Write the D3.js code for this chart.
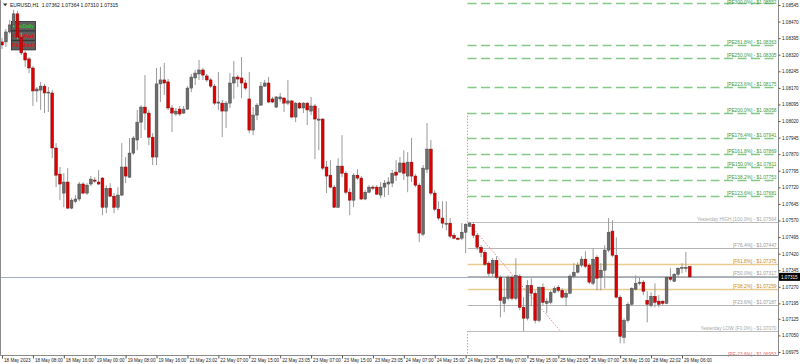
<!DOCTYPE html>
<html>
<head>
<meta charset="utf-8">
<script src="https://cdn.jsdelivr.net/npm/d3@7"></script>
<style>
body { margin: 0; background: #fff; }
svg { display: block; font-family: "Liberation Sans", Arial, sans-serif; }
</style>
</head>
<body>
<script>
// EURUSD H1, bars from 18 May 00:00 up to 29 May 08:00
let open = [1.08378,1.08378,1.08423,1.08455,1.08505,1.08400,1.08328,1.08301,1.08260,1.08156,1.08160,1.08178,1.08147,1.08147,1.07898,1.07780,1.07694,1.07744,1.07626,1.07657,
1.07667,1.07735,1.07694,1.07735,1.07753,1.07744,1.07762,1.07630,1.07716,1.07680,1.07630,1.07685,1.07812,1.07766,1.07875,1.07934,1.08015,1.08083,1.08056,1.07947,
1.07857,1.08188,1.08206,1.08197,1.08079,1.08052,1.08074,1.08056,1.08074,1.08169,1.08215,1.08233,1.08251,1.08224,1.08206,1.08178,1.08101,1.08101,1.08065,1.08101,
1.08192,1.08219,1.08215,1.08192,1.08120,1.07979,1.08047,1.08092,1.08178,1.08192,1.08120,1.08083,1.08120,1.08124,1.08101,1.08111,1.08038,1.08101,1.08079,1.08101,
1.08065,1.08088,1.08024,1.08029,1.07812,1.07775,1.07721,1.07630,1.07816,1.07784,1.07698,1.07662,1.07775,1.07762,1.07667,1.07698,1.07721,1.07721,1.07685,1.07721,
1.07735,1.07739,1.07789,1.07789,1.07830,1.07771,1.07834,1.07771,1.07730,1.07508,1.07802,1.07893,1.07694,1.07621,1.07581,1.07553,1.07558,1.07503,1.07490,1.07490,
1.07517,1.07544,1.07553,1.07503,1.07449,1.07426,1.07377,1.07331,1.07390,1.07313,1.07195,1.07218,1.07313,1.07218,1.07318,1.07177,1.07128,1.07277,1.07241,1.07118,
1.07268,1.07195,1.07200,1.07245,1.07268,1.07254,1.07223,1.07241,1.07318,1.07336,1.07368,1.07395,1.07368,1.07286,1.07404,1.07313,1.07345,1.07436,1.07522,1.07413,
1.07223,1.07041,1.07118,1.07191,1.07259,1.07286,1.07291,1.07209,1.07186,1.07227,1.07205,1.07205,1.07195,1.07313,1.07295,1.07327,1.07354,1.07354,1.07362]
let high = [1.08396,1.08437,1.08477,1.08523,1.08518,1.08419,1.08337,1.08310,1.08269,1.08174,1.08197,1.08188,1.08174,1.08160,1.07920,1.07812,1.07784,1.07807,1.07671,1.07685,
1.07744,1.07744,1.07739,1.07771,1.07766,1.07798,1.07766,1.07730,1.07739,1.07694,1.07721,1.07920,1.07857,1.07943,1.07952,1.08070,1.08092,1.08228,1.08070,1.07965,
1.08260,1.08265,1.08283,1.08210,1.08092,1.08079,1.08088,1.08088,1.08178,1.08233,1.08251,1.08296,1.08260,1.08233,1.08215,1.08188,1.08242,1.08115,1.08111,1.08237,
1.08292,1.08228,1.08310,1.08206,1.08242,1.08083,1.08101,1.08197,1.08206,1.08219,1.08129,1.08133,1.08147,1.08129,1.08206,1.08115,1.08106,1.08106,1.08106,1.08106,
1.08129,1.08097,1.08079,1.08033,1.07839,1.07843,1.07730,1.07852,1.07956,1.07793,1.07716,1.07784,1.07802,1.07771,1.07707,1.07730,1.07730,1.07730,1.07744,1.07753,
1.07766,1.07798,1.07843,1.07857,1.07888,1.07879,1.07943,1.07780,1.07739,1.07821,1.08011,1.07934,1.07707,1.07657,1.07657,1.07657,1.07581,1.07513,1.07494,1.07558,
1.07558,1.07564,1.07562,1.07513,1.07458,1.07436,1.07386,1.07399,1.07408,1.07322,1.07309,1.07322,1.07322,1.07399,1.07327,1.07223,1.07300,1.07309,1.07254,1.07272,
1.07286,1.07218,1.07254,1.07272,1.07277,1.07263,1.07254,1.07327,1.07377,1.07381,1.07408,1.07431,1.07377,1.07445,1.07413,1.07377,1.07458,1.07581,1.07571,1.07494,
1.07232,1.07128,1.07200,1.07268,1.07322,1.07313,1.07300,1.07250,1.07245,1.07286,1.07232,1.07209,1.07318,1.07354,1.07331,1.07358,1.07377,1.07428,1.07364]
let low = [1.08346,1.08355,1.08414,1.08446,1.08391,1.08319,1.08265,1.08237,1.08088,1.08106,1.08070,1.08056,1.08061,1.07852,1.07721,1.07662,1.07630,1.07621,1.07621,1.07648,
1.07657,1.07689,1.07685,1.07725,1.07739,1.07730,1.07594,1.07603,1.07676,1.07603,1.07617,1.07680,1.07739,1.07762,1.07866,1.07888,1.07943,1.07979,1.07911,1.07821,
1.07821,1.08106,1.08138,1.08070,1.07970,1.08043,1.08043,1.08052,1.08070,1.08151,1.08183,1.08206,1.08206,1.08197,1.08169,1.08092,1.08070,1.07947,1.07988,1.08079,
1.08120,1.08174,1.08124,1.08160,1.07965,1.07956,1.08024,1.08088,1.08174,1.08101,1.08101,1.08079,1.08106,1.08061,1.08092,1.08033,1.08015,1.08074,1.08056,1.08002,
1.08047,1.07848,1.07888,1.07798,1.07694,1.07716,1.07626,1.07626,1.07766,1.07689,1.07594,1.07630,1.07753,1.07662,1.07662,1.07694,1.07707,1.07685,1.07671,1.07676,
1.07685,1.07721,1.07748,1.07784,1.07753,1.07698,1.07744,1.07721,1.07472,1.07499,1.07784,1.07685,1.07612,1.07571,1.07535,1.07526,1.07490,1.07485,1.07481,1.07481,
1.07422,1.07540,1.07490,1.07436,1.07404,1.07363,1.07318,1.07313,1.07304,1.07132,1.07155,1.07209,1.07209,1.07209,1.07164,1.07070,1.07118,1.07182,1.07105,1.07109,
1.07186,1.07150,1.07191,1.07241,1.07245,1.07218,1.07182,1.07236,1.07309,1.07331,1.07358,1.07354,1.07282,1.07277,1.07254,1.07254,1.07263,1.07426,1.07404,1.07218,
1.07014,1.07014,1.07109,1.07182,1.07254,1.07277,1.07232,1.07109,1.07177,1.07177,1.07177,1.07186,1.07191,1.07295,1.07291,1.07313,1.07331,1.07336,1.07310]
let close = [1.08364,1.08423,1.08455,1.08505,1.08400,1.08328,1.08296,1.08260,1.08156,1.08165,1.08178,1.08147,1.08151,1.07898,1.07775,1.07735,1.07744,1.07626,1.07662,1.07667,
1.07735,1.07694,1.07730,1.07757,1.07748,1.07735,1.07630,1.07716,1.07680,1.07630,1.07685,1.07812,1.07771,1.07875,1.07943,1.08015,1.08083,1.08056,1.07947,1.07857,
1.08188,1.08206,1.08192,1.08079,1.08056,1.08065,1.08052,1.08074,1.08169,1.08219,1.08237,1.08251,1.08228,1.08206,1.08178,1.08101,1.08106,1.08065,1.08101,1.08192,
1.08219,1.08210,1.08192,1.08169,1.07979,1.08047,1.08092,1.08178,1.08192,1.08106,1.08106,1.08129,1.08129,1.08101,1.08111,1.08038,1.08101,1.08079,1.08101,1.08070,
1.08088,1.08029,1.08029,1.07807,1.07771,1.07721,1.07630,1.07816,1.07784,1.07698,1.07662,1.07775,1.07762,1.07667,1.07698,1.07721,1.07716,1.07689,1.07721,1.07739,
1.07744,1.07784,1.07775,1.07830,1.07784,1.07834,1.07771,1.07730,1.07513,1.07807,1.07893,1.07694,1.07621,1.07581,1.07558,1.07558,1.07499,1.07490,1.07485,1.07517,
1.07553,1.07558,1.07503,1.07449,1.07426,1.07372,1.07331,1.07390,1.07313,1.07209,1.07223,1.07313,1.07218,1.07322,1.07177,1.07128,1.07277,1.07241,1.07118,1.07268,
1.07200,1.07205,1.07245,1.07263,1.07254,1.07223,1.07241,1.07318,1.07336,1.07368,1.07395,1.07363,1.07291,1.07395,1.07309,1.07345,1.07436,1.07517,1.07413,1.07223,
1.07046,1.07118,1.07191,1.07263,1.07286,1.07291,1.07250,1.07191,1.07227,1.07200,1.07191,1.07195,1.07313,1.07304,1.07327,1.07354,1.07358,1.07358,1.07315]

// time axis: a label every 8 bars
let timeTickIdx = [0,8,16,24,32,40,48,56,64,72,80,88,96,104,112,120,128,136,144,152,160,168,176]
let timeLabels = ["18 May 2023","18 May 08:00","18 May 16:00","19 May 00:00","19 May 08:00","19 May 16:00",
    "21 May 23:02","22 May 07:00","22 May 15:00","22 May 23:05","23 May 07:00","23 May 15:00","23 May 23:05",
    "24 May 07:00","24 May 15:00","24 May 23:05","25 May 07:00","25 May 15:00","25 May 23:05","26 May 07:00",
    "26 May 15:00","28 May 22:02","29 May 06:00"]
let priceTicks = [1.08545,1.08470,1.08395,1.08320,1.08245,1.08170,1.08095,1.08020,1.07945,1.07870,1.07795,
    1.07720,1.07645,1.07570,1.07495,1.07420,1.07345,1.07270,1.07195,1.07125,1.07050,1.06975]

// fibo levels of the previous day (25 May)
let fiboName = ["[PE300.0%]","[PE261.8%]","[PE250.0%]","[PE223.6%]","[PE200.0%]","[PE176.4%]","[PE161.8%]",
    "[PE150.0%]","[PE138.2%]","[PE123.6%]","Yesterday HIGH (100.0%)","[F76.4%]","[F61.8%]","[F50.0%]",
    "[F38.2%]","[F23.6%]","Yesterday LOW (F0.0%)","[PE-23.6%]"]
let fiboPrice = [1.08552,1.08363,1.08305,1.08175,1.08058,1.07941,1.07869,1.07811,1.07753,1.07681,
    1.07564,1.07447,1.07375,1.07317,1.07259,1.07187,1.07070,1.06953]
let fiboKind = ["pe","pe","pe","pe","pe","pe","pe","pe","pe","pe","y","f","fo","f","fo","f","y","neg"]
let dayStart = 121, dayEnd = 145
let bid = 1.07315
let title = "EURUSD,H1  1.07362 1.07364 1.07310 1.07315"
let buttons = [["FiboDaily", "#22cc22"], ["FiboWeek", "#e01010"], ["FiboMonth", "#e01010"]]

let w = 800, h = 364
let plotW = 778, plotH = 355

let svg = d3.select("body").append("svg")
    .attr("width", w)
    .attr("height", h)

svg.append("clipPath").attr("id", "clip")
    .append("rect").attr("width", plotW).attr("height", plotH)

let x = d3.scaleLinear().domain([0, 176]).range([2, 682])
let y = d3.scaleLinear().domain([1.06975, 1.08545]).range([352, 5])

//panel with buttons (drawn behind the bars)
let panel = svg.append("g")
buttons.forEach((b, k) => {
    panel.append("rect")
        .attr("x", 11.5).attr("y", 21.5 + k*9.6)
        .attr("width", 24).attr("height", 9.2)
        .attr("fill", "#5f5f5f").attr("stroke", "#2a2a2a").attr("stroke-width", 0.8)
    panel.append("text")
        .attr("x", 23.5).attr("y", 28 + k*9.6)
        .attr("text-anchor", "middle")
        .attr("font-size", 4.6)
        .attr("font-weight", "bold")
        .attr("fill", b[1])
        .text(b[0])
})

let plot = svg.append("g").attr("clip-path", "url(#clip)")

//fibo lines
let styleOf = {
    pe:  {line: "#86c886", dash: "9,4.5", sw: 1.3, txt: "#3c9a3c"},
    f:   {line: "#b5b5b5", dash: null, sw: 1, txt: "#9a9a9a"},
    fo:  {line: "#e9cb90", dash: null, sw: 1.3, txt: "#c98a28"},
    y:   {line: "#bdbdbd", dash: null, sw: 1, txt: "#a8a8a8"},
    neg: {line: "#f2a0a0", dash: "2,2", sw: 1, txt: "#e86a6a"}
}
let levels = fiboPrice.map((p, k) => ({p, name: fiboName[k], kind: fiboKind[k]}))
let x0 = x(dayStart - 0.5)

plot.selectAll(".lvl")
    .data(levels)
    .enter()
    .append("line")
    .attr("class", "lvl")
    .attr("x1", x0).attr("x2", plotW)
    .attr("y1", d=>Math.round(y(d.p))+0.5).attr("y2", d=>Math.round(y(d.p))+0.5)
    .attr("stroke", d=>styleOf[d.kind].line)
    .attr("stroke-width", d=>styleOf[d.kind].sw)
    .attr("stroke-dasharray", d=>styleOf[d.kind].dash)

// bid line across the chart
plot.append("line")
    .attr("x1", 0).attr("x2", plotW)
    .attr("y1", Math.round(y(bid))+0.5).attr("y2", Math.round(y(bid))+0.5)
    .attr("stroke", "#a3adb8").attr("stroke-width", 1)

// red dotted day markers
let pHigh = fiboPrice[10], pLow = fiboPrice[16]
let dotted = [
    [x0, y(fiboPrice[4]), x0, y(pHigh)],
    [x0, y(pLow), x0, y(fiboPrice[17])],
    [x0, y(pHigh), x(dayEnd - 0.5), y(pLow)]
]
plot.selectAll(".dot")
    .data(dotted)
    .enter()
    .append("line")
    .attr("x1", d=>d[0]).attr("y1", d=>d[1])
    .attr("x2", d=>d[2]).attr("y2", d=>d[3])
    .attr("stroke", "#f28c8c").attr("stroke-width", 1)
    .attr("stroke-dasharray", "1.5,1.5")

//candles
let bars = d3.range(open.length).map(i => ({i, o: open[i], h: high[i], l: low[i], c: close[i]}))
plot.selectAll(".wick")
    .data(bars)
    .enter()
    .append("line")
    .attr("x1", d=>x(d.i)).attr("x2", d=>x(d.i))
    .attr("y1", d=>y(d.h)).attr("y2", d=>y(d.l))
    .attr("stroke", "#9a9a9a").attr("stroke-width", 1)

plot.selectAll(".body")
    .data(bars)
    .enter()
    .append("rect")
    .attr("x", d=>x(d.i)-1.4)
    .attr("width", 2.8)
    .attr("y", d=>y(Math.max(d.o, d.c)))
    .attr("height", d=>Math.max(1, Math.abs(y(d.o)-y(d.c))))
    .attr("fill", d=>d.c < d.o ? "#e00000" : "#6c6c6c")
    .attr("stroke", d=>d.c < d.o ? "#7a1010" : "#4a4a4a")
    .attr("stroke-width", 0.5)

//fibo labels (kept inside the picture at the top)
svg.selectAll(".lbl")
    .data(levels)
    .enter()
    .append("text")
    .attr("x", plotW - 1.5)
    .attr("y", d=>Math.max(4, y(d.p) - 1))
    .attr("text-anchor", "end")
    .attr("font-size", 4.8)
    .attr("fill", d=>styleOf[d.kind].txt)
    .text(d=>`${d.name} - $${d.p.toFixed(5)}`)

//frame
svg.append("path")
    .attr("d", `M0.5,0V${plotH}.5H${plotW}.5V0`)
    .attr("fill", "none").attr("stroke", "#8a8a8a").attr("stroke-width", 1)

//price axis
let yAxis = d3.axisRight(y)
    .tickValues(priceTicks)
    .tickFormat(d3.format(".5f"))
    .tickSize(2)
    .tickPadding(1.5)
svg.append("g")
    .attr("transform", `translate(${plotW + 0.5},0)`)
    .call(yAxis)
    .call(g => g.select(".domain").remove())
    .call(g => g.selectAll("line").attr("stroke", "#555"))
    .call(g => g.selectAll("text").attr("font-size", 4.6).attr("fill", "#222").attr("font-family", "Liberation Sans, Arial, sans-serif"))

//time axis
let xAxis = d3.axisBottom(x)
    .tickValues(timeTickIdx)
    .tickFormat((d, k) => timeLabels[k])
    .tickSize(3)
svg.append("g")
    .attr("transform", `translate(0,${plotH + 0.5})`)
    .call(xAxis)
    .call(g => g.select(".domain").remove())
    .call(g => g.selectAll("line").attr("stroke", "#555"))
    .call(g => g.selectAll("text")
        .attr("text-anchor", "start")
        .attr("dx", 1.5)
        .attr("y", 3)
        .attr("font-size", 4.6)
        .attr("fill", "#222")
        .attr("font-family", "Liberation Sans, Arial, sans-serif"))

//current price tag
svg.append("rect")
    .attr("x", plotW + 1).attr("y", y(bid) - 4)
    .attr("width", w - plotW - 1).attr("height", 8)
    .attr("fill", "#000")
svg.append("text")
    .attr("x", plotW + 3).attr("y", y(bid) + 1.7)
    .attr("font-size", 4.6)
    .attr("fill", "#fff")
    .text(bid.toFixed(5))

//title
svg.append("path")
    .attr("d", "M3,3.5H7.4L5.2,6.3Z")
    .attr("fill", "#333")
svg.append("text")
    .attr("x", 10).attr("y", 7)
    .attr("font-size", 5)
    .attr("fill", "#111")
    .attr("xml:space", "preserve")
    .style("white-space", "pre")
    .text(title)
</script>
</body>
</html>
